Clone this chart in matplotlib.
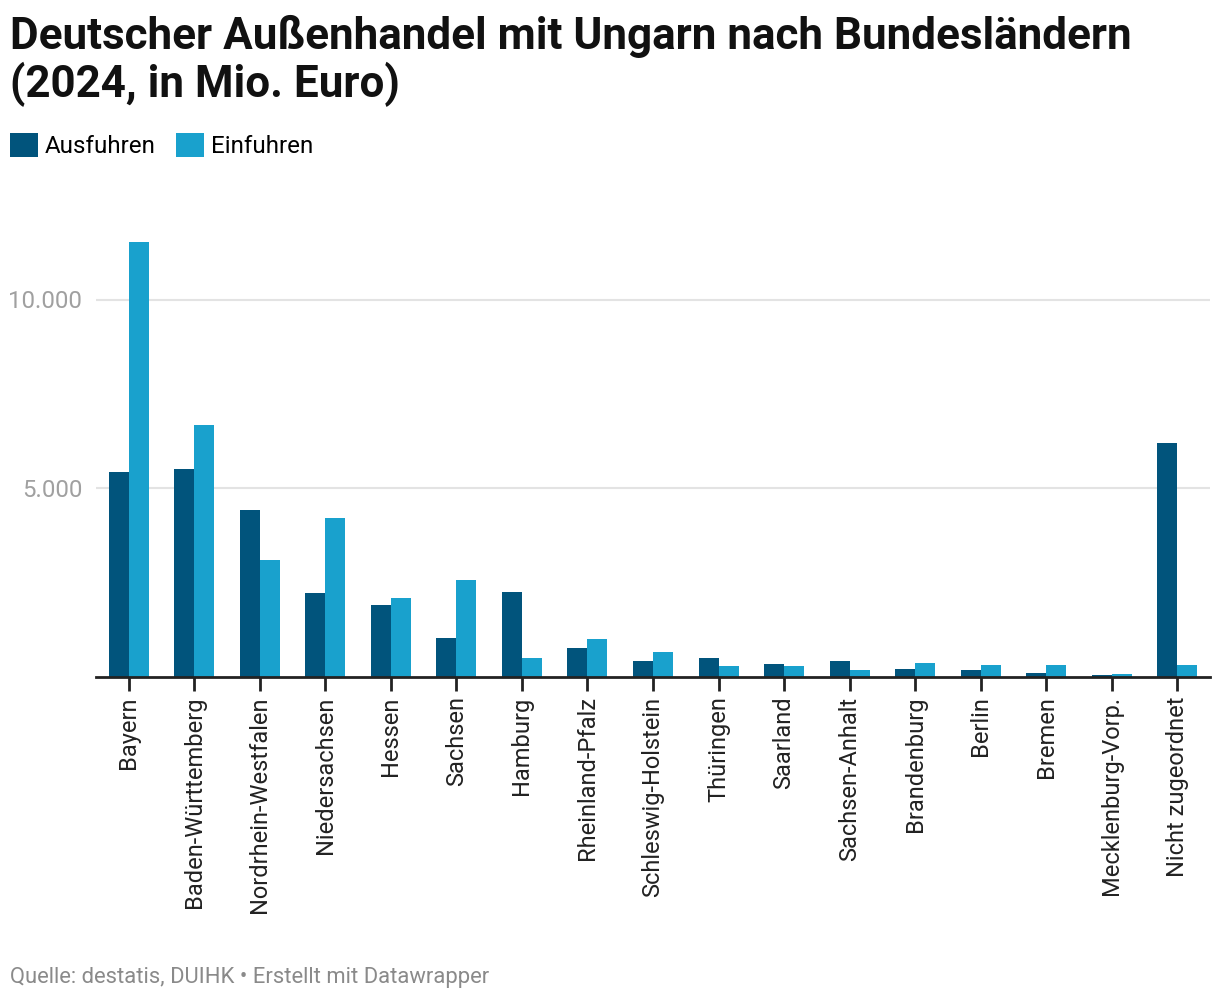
import matplotlib.pyplot as plt
import numpy as np
from matplotlib.ticker import FuncFormatter

plt.rcParams['font.family'] = ['Roboto', 'DejaVu Sans']

laender = ['Bayern', 'Baden-Württemberg', 'Nordrhein-Westfalen', 'Niedersachsen',
           'Hessen', 'Sachsen', 'Hamburg', 'Rheinland-Pfalz', 'Schleswig-Holstein',
           'Thüringen', 'Saarland', 'Sachsen-Anhalt', 'Brandenburg', 'Berlin',
           'Bremen', 'Mecklenburg-Vorp.', 'Nicht zugeordnet']
ausfuhren = [5440, 5520, 4430, 2230, 1915, 1030, 2250, 775, 430, 510,
             350, 430, 220, 190, 110, 45, 6200]
einfuhren = [11530, 6685, 3105, 4220, 2090, 2570, 505, 1015, 670, 300,
             300, 190, 380, 325, 325, 70, 325]

c_aus = '#01547c'
c_ein = '#19a1cd'

fig = plt.figure(figsize=(12.2, 10), dpi=100)
ax = fig.add_axes([96 / 1220, 323 / 1000, 1114 / 1220, 453 / 1000])

x = np.arange(len(laender))
w = 0.305
ax.bar(x - w / 2, ausfuhren, w, color=c_aus, label='Ausfuhren', zorder=3)
ax.bar(x + w / 2, einfuhren, w, color=c_ein, label='Einfuhren', zorder=3)

ax.set_xlim(-0.5, len(laender) - 0.5)
ax.set_ylim(0, 12000)
ax.set_yticks([5000, 10000])
ax.yaxis.set_major_formatter(FuncFormatter(lambda v, p: f'{int(v):,}'.replace(',', '.')))
ax.grid(axis='y', color='#e3e3e3', linewidth=1.5, zorder=0)
ax.tick_params(axis='y', length=0, pad=10, labelsize=17.3, labelcolor='#a0a0a0')

ax.set_xticks(x)
ax.set_xticklabels(laender, rotation=90, fontsize=17, color='#222222')
ax.tick_params(axis='x', length=10, width=2, color='#222222', pad=4)

for s in ['top', 'right', 'left']:
    ax.spines[s].set_visible(False)
ax.spines['bottom'].set_color('#222222')
ax.spines['bottom'].set_linewidth(2)
ax.spines['bottom'].set_zorder(4)

fig.text(10 / 1220, 1 - 15 / 1000, 'Deutscher Außenhandel mit Ungarn nach Bundesländern\n(2024, in Mio. Euro)',
         fontsize=31.7, fontweight='bold', color='#111111', va='top', ha='left', linespacing=1.1)

fig.legend(loc='upper left', bbox_to_anchor=(10 / 1220, 1 - 133 / 1000), ncol=2, frameon=False,
           fontsize=17.4, handlelength=1.15, handleheight=1.15, handletextpad=0.3,
           columnspacing=0.85, borderpad=0, borderaxespad=0)

fig.text(10 / 1220, 1 - 977 / 1000, 'Quelle: destatis, DUIHK • Erstellt mit Datawrapper',
         fontsize=15.8, color='#8a8a8a', va='center', ha='left')

fig.savefig('out.png', dpi=100)
